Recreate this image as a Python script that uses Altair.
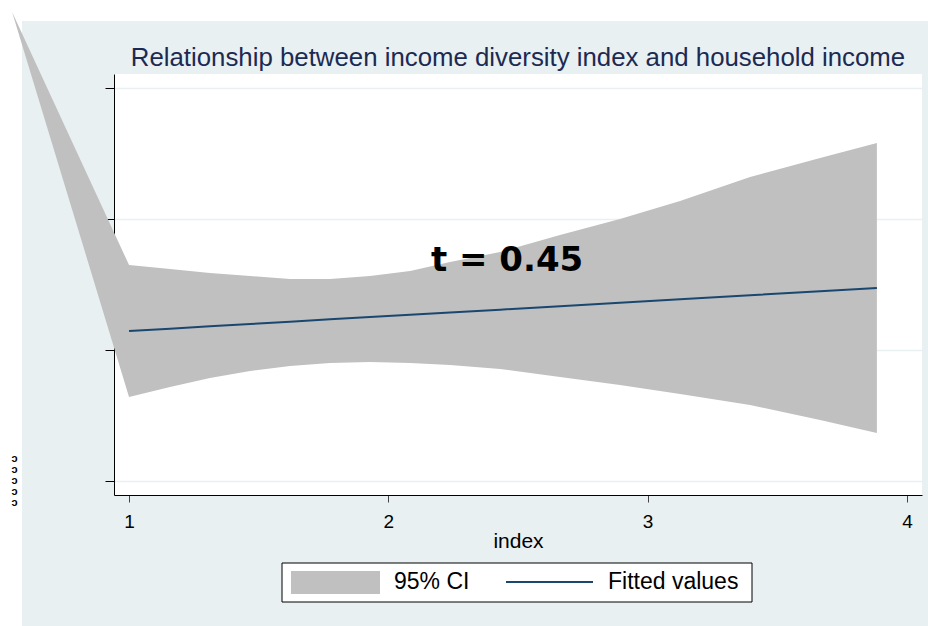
import altair as alt
import pandas as pd

# Confidence band (95% CI) of the linear fit; first row is the stray vertex of the band
CI_X = [0.549, 1.000, 1.158, 1.312, 1.467, 1.621, 1.775, 1.929, 2.084,
        2.238, 2.431, 2.662, 2.893, 3.125, 3.395, 3.665, 3.884]
CI_UPPER = [3.580, 1.649, 1.618, 1.588, 1.565, 1.542, 1.542, 1.565, 1.603,
            1.672, 1.748, 1.878, 2.000, 2.137, 2.321, 2.466, 2.580]
CI_LOWER = [3.580, 0.641, 0.718, 0.786, 0.840, 0.878, 0.901, 0.908, 0.901,
            0.885, 0.855, 0.794, 0.733, 0.664, 0.580, 0.466, 0.366]

# Fitted values of the regression line
FIT_X = [1.000, 1.158, 1.312, 1.467, 1.621, 1.775, 1.929, 2.084,
         2.238, 2.431, 2.662, 2.893, 3.125, 3.395, 3.665, 3.884]
FIT_Y = [1.145, 1.163, 1.181, 1.198, 1.216, 1.234, 1.251, 1.269,
         1.286, 1.308, 1.334, 1.360, 1.387, 1.418, 1.448, 1.473]

X_TICKS = [1, 2, 3, 4]
Y_TICKS = [0, 1, 2, 3]
X_DOMAIN = [0.942, 4.058]
Y_DOMAIN = [-0.107, 3.107]

TITLE = "Relationship between income diversity index and household income"
X_TITLE = "index"
Y_TITLE = ["ɔ", "ɔ", "ɔ", "ɔ", "ɔ"]
LEGEND_LABELS = ["95% CI", "Fitted values"]
STAT_LABEL = "t = 0.45"
STAT_X = [2.458]
STAT_Y = [1.603]

BG = "#e9f0f2"
CI_GRAY = "#c0c0c0"
NAVY = "#1a476f"
TITLE_COLOR = "#1c2a52"
FONT = "Liberation Sans"

W, H = 808, 421

ci = pd.DataFrame({"x": CI_X, "upper": CI_UPPER, "lower": CI_LOWER})
fit = pd.DataFrame({"x": FIT_X, "fit": FIT_Y})
stat = pd.DataFrame({"x": STAT_X, "y": STAT_Y, "label": [STAT_LABEL]})
one = pd.DataFrame({"k": [0]})

x_scale = alt.Scale(domain=X_DOMAIN, nice=False, zero=False)
y_scale = alt.Scale(domain=Y_DOMAIN, nice=False, zero=False)

x_axis = alt.Axis(
    values=X_TICKS, format="d", grid=False, tickSize=7, tickColor="#444444",
    tickWidth=1, domainColor="black", domainWidth=1, labelFont=FONT,
    labelFontSize=19, labelColor="black", labelPadding=10, title=X_TITLE,
    titleFont=FONT, titleFontSize=21, titleFontWeight="normal",
    titleColor="black", titleBaseline="alphabetic", titleX=W / 2, titleY=52,
    titleAlign="center",
)
y_axis = alt.Axis(
    values=Y_TICKS, labels=False, tickSize=9, tickColor="black", tickWidth=1,
    domainColor="black", domainWidth=1, grid=True, gridColor=BG, gridWidth=1.5,
    title=None,
)

# white margin strips at the top and left edges of the canvas
top_strip = alt.Chart(one).mark_rect(color="white").encode(
    x=alt.value(-114), x2=alt.value(W + 6), y=alt.value(-74), y2=alt.value(-53)
)
left_strip = alt.Chart(one).mark_rect(color="white").encode(
    x=alt.value(-114), x2=alt.value(-92), y=alt.value(-53), y2=alt.value(H + 131)
)

title_text = alt.Chart(one).mark_text(
    font=FONT, fontSize=25.8, color=TITLE_COLOR, align="center", baseline="alphabetic"
).encode(x=alt.value(W / 2), y=alt.value(-8), text=alt.value(TITLE))

y_title_text = alt.Chart(one).mark_text(
    font=FONT, fontSize=11, fontWeight="bold", color="black", align="center",
    baseline="middle", lineHeight=11,
).encode(x=alt.value(-99.5), y=alt.value(384.5), text=alt.value(Y_TITLE))

band = alt.Chart(ci).mark_area(color=CI_GRAY, opacity=1).encode(
    x=alt.X("x:Q", scale=x_scale, axis=x_axis),
    y=alt.Y("upper:Q", scale=y_scale, axis=y_axis),
    y2="lower:Q",
)

line = alt.Chart(fit).mark_line(color=NAVY, strokeWidth=2).encode(
    x=alt.X("x:Q", scale=x_scale),
    y=alt.Y("fit:Q", scale=y_scale),
)

stat_text = alt.Chart(stat).mark_text(
    font="DejaVu Sans", fontSize=34, fontWeight="bold", color="black",
    align="center", baseline="alphabetic",
).encode(
    x=alt.X("x:Q", scale=x_scale),
    y=alt.Y("y:Q", scale=y_scale),
    text="label:N",
)

# legend: framed box with an area swatch and a line swatch
legend_box = alt.Chart(one).mark_rect(fill="white", stroke="black", strokeWidth=1).encode(
    x=alt.value(168), x2=alt.value(638), y=alt.value(489), y2=alt.value(528)
)
legend_area = alt.Chart(one).mark_rect(color=CI_GRAY).encode(
    x=alt.value(177), x2=alt.value(266), y=alt.value(497), y2=alt.value(520)
)
legend_line = alt.Chart(one).mark_rule(color=NAVY, strokeWidth=2).encode(
    x=alt.value(392), x2=alt.value(479), y=alt.value(508)
)
legend_text_ci = alt.Chart(one).mark_text(
    font=FONT, fontSize=23, color="black", align="left", baseline="middle"
).encode(x=alt.value(280), y=alt.value(508), text=alt.value(LEGEND_LABELS[0]))
legend_text_fit = alt.Chart(one).mark_text(
    font=FONT, fontSize=23, color="black", align="left", baseline="middle"
).encode(x=alt.value(494), y=alt.value(508), text=alt.value(LEGEND_LABELS[1]))

chart = alt.layer(
    top_strip, left_strip, title_text, y_title_text, band, line, stat_text,
    legend_box, legend_area, legend_line, legend_text_ci, legend_text_fit,
).properties(
    width=W,
    height=H,
    autosize=alt.AutoSizeParams(type="none"),
    padding={"left": 114, "top": 74, "right": 6, "bottom": 131},
    background=BG,
).configure_view(
    stroke=None, fill="white"
)

chart.save("out.html", embed_options={"renderer": "svg", "actions": False})
